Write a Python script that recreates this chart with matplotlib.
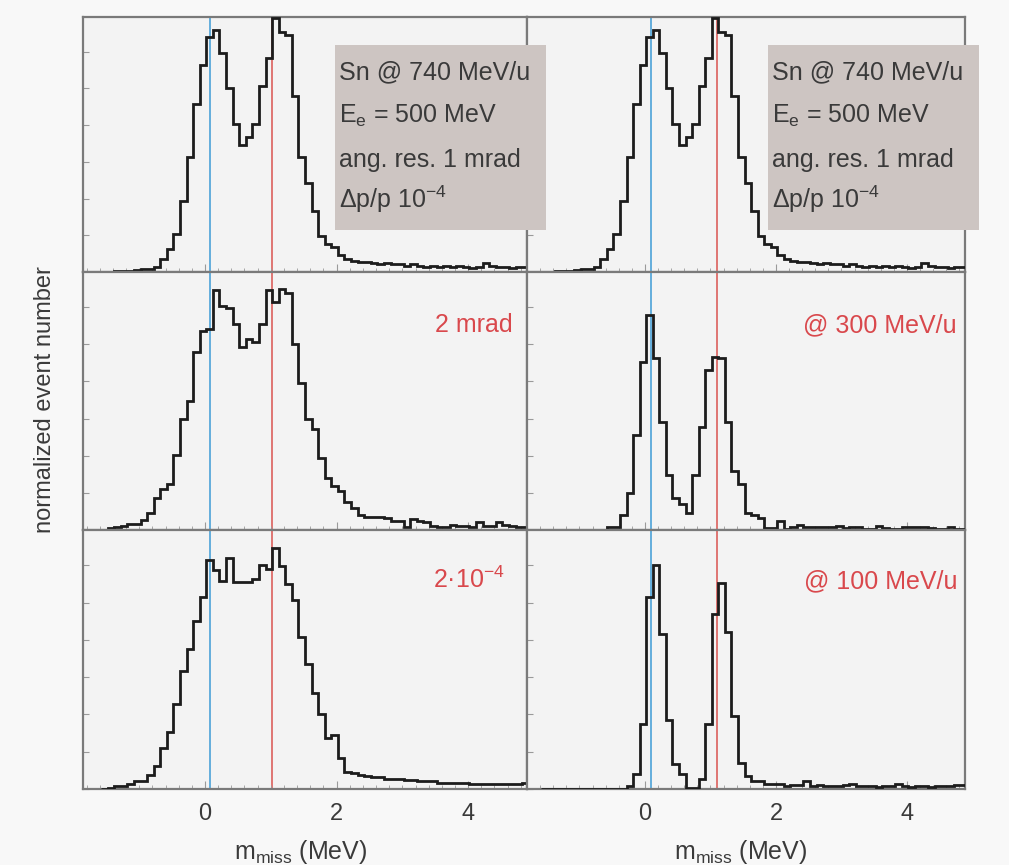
import numpy as np
import matplotlib
matplotlib.use("Agg")
import matplotlib.pyplot as plt
from matplotlib.patches import Rectangle
from matplotlib.ticker import MultipleLocator

# ---------------- data ----------------
bin_start = -1.58
bin_width = 0.1

# Sn @ 740 MeV/u, Ee = 500 MeV, 1 mrad, dp/p 1e-4 (reference, top row)
ref_740 = [0, 0, 0.003, 0.005, 0.005, 0.008, 0.01, 0.012, 0.02, 0.05,
           0.09, 0.15, 0.28, 0.45, 0.66, 0.81, 0.92, 0.95, 0.86, 0.72,
           0.58, 0.50, 0.53, 0.58, 0.73, 0.84, 0.995, 0.94, 0.93, 0.69,
           0.45, 0.35, 0.24, 0.14, 0.11, 0.10, 0.065, 0.05,
           0.045, 0.04, 0.04, 0.035, 0.03, 0.035, 0.03, 0.03, 0.025, 0.03,
           0.025, 0.02, 0.025, 0.02, 0.025, 0.02, 0.025, 0.02, 0.015, 0.02,
           0.035, 0.025, 0.02, 0.02, 0.015, 0.02, 0.02]

# angular resolution 2 mrad
ang_2mrad = [0, 0.008, 0.01, 0.017, 0.025, 0.025, 0.04, 0.065, 0.125, 0.16,
             0.18, 0.29, 0.43, 0.50, 0.69, 0.77, 0.78, 0.93, 0.87, 0.86,
             0.80, 0.71, 0.74, 0.73, 0.80, 0.93, 0.885, 0.935, 0.92, 0.72,
             0.57, 0.43, 0.39, 0.28, 0.20, 0.17, 0.15, 0.11, 0.085, 0.06,
             0.05, 0.05, 0.05, 0.045, 0.035, 0.034, 0.013, 0.043, 0.034, 0.03,
             0.017, 0.01, 0.01, 0.02, 0.015, 0.015, 0.013, 0.03, 0.015, 0.015,
             0.03, 0.02, 0.015, 0.013, 0.01]

# momentum resolution 2e-4
mom_2e4 = [0, 0.005, 0.013, 0.013, 0.02, 0.03, 0.03, 0.055, 0.09, 0.16,
           0.22, 0.33, 0.455, 0.54, 0.65, 0.74, 0.885, 0.845, 0.805, 0.89,
           0.80, 0.80, 0.80, 0.81, 0.865, 0.85, 0.93, 0.86, 0.79, 0.73,
           0.587, 0.483, 0.37, 0.29, 0.197, 0.21, 0.12, 0.065, 0.06, 0.055,
           0.05, 0.045, 0.045, 0.04, 0.04, 0.04, 0.035, 0.035, 0.03, 0.03,
           0.03, 0.025, 0.025, 0.025, 0.022, 0.022, 0.02, 0.02, 0.02, 0.02,
           0.018, 0.02, 0.018, 0.02, 0.025]

# beam 300 MeV/u
beam_300 = [0, 0, 0, 0, 0, 0, 0, 0, 0, 0,
            0.01, 0.01, 0.06, 0.145, 0.37, 0.65, 0.835, 0.665, 0.42, 0.215,
            0.125, 0.10, 0.065, 0.215, 0.40, 0.62, 0.67, 0.665, 0.42, 0.23,
            0.18, 0.065, 0.06, 0.045, 0.008, 0.008, 0.035, 0.005, 0.013, 0.02,
            0.013, 0.012, 0.01, 0.01, 0.012, 0.016, 0.008, 0.012, 0.012, 0.005,
            0.005, 0.016, 0.008, 0.005, 0.004, 0.01, 0.01, 0.013, 0.01, 0.008,
            0.005, 0.005, 0.013, 0.004, 0.004]

# beam 100 MeV/u
beam_100 = [0, 0, 0, 0, 0, 0, 0, 0, 0, 0,
            0, 0, 0, 0.013, 0.056, 0.25, 0.74, 0.865, 0.60, 0.265,
            0.095, 0.056, 0.003, 0.003, 0.04, 0.25, 0.675, 0.795, 0.605, 0.28,
            0.10, 0.05, 0.03, 0.03, 0.02, 0.02, 0.02, 0.01, 0.015, 0.015,
            0.03, 0.01, 0.015, 0.012, 0.01, 0.012, 0.015, 0.02, 0.01, 0.01,
            0.012, 0.008, 0.01, 0.01, 0.02, 0.01, 0.008, 0.01, 0.01, 0.008,
            0.01, 0.01, 0.012, 0.015, 0.015]

# reference lines (left column, right column)
line_blue = [0.076, 0.10]
line_red = [1.025, 1.10]
x_range = [(-1.854, 4.894), (-1.80, 4.885)]
x_ticks = [0, 2, 4]

box_lines = ["Sn @ 740 MeV/u", "E$_\\mathregular{e}$ = 500 MeV",
             "ang. res. 1 mrad", "\u0394p/p 10$^{\\mathregular{-4}}$"]
panel_labels = [[None, None],
                ["2 mrad", "@ 300 MeV/u"],
                ["2\u00b710$^{\\mathregular{-4}}$", "@ 100 MeV/u"]]
panel_data = [[ref_740, ref_740],
              [ang_2mrad, beam_300],
              [mom_2e4, beam_100]]
x_label = "m$_\\mathregular{miss}$ (MeV)"
y_label = "normalized event number"

# ---------------- style ----------------
plt.rcParams['font.family'] = ['Liberation Sans', 'DejaVu Sans']
plt.rcParams['mathtext.fontset'] = 'custom'
plt.rcParams['mathtext.rm'] = 'Liberation Sans'
plt.rcParams['mathtext.it'] = 'Liberation Sans'
plt.rcParams['mathtext.default'] = 'regular'

W, H = 1009, 865
fig = plt.figure(figsize=(W / 100, H / 100), dpi=100, facecolor='#f8f8f8')

col_x = [(83, 527), (527, 965)]
row_y = [(17, 272), (272, 530), (530, 789)]
text_col = '#3a3a3a'
red_col = '#d9484c'

edges = bin_start + bin_width * np.arange(len(ref_740) + 1)

label_pos = [[None, None], [(0.968, 0.767), (0.982, 0.767)],
             [(0.950, 0.776), (0.982, 0.776)]]

for r in range(3):
    for c in range(2):
        x0, x1 = col_x[c]
        y0, y1 = row_y[r]
        ax = fig.add_axes([x0 / W, (H - y1) / H, (x1 - x0) / W, (y1 - y0) / H])
        ax.set_facecolor('#f3f3f3')
        ax.axvline(line_blue[c], color='#3d9bd6', lw=1.1, zorder=1)
        ax.axvline(line_red[c], color='#d9534f', lw=1.1, zorder=1)
        ax.stairs(panel_data[r][c], edges, color='#1c1c1c', lw=2.0, zorder=3)
        ax.set_xlim(*x_range[c])
        ax.set_ylim(0, 1.0)
        ax.set_xticks(x_ticks)
        ax.xaxis.set_minor_locator(MultipleLocator(0.2))
        ax.yaxis.set_major_locator(MultipleLocator(0.144))
        ax.set_yticklabels([])
        ax.tick_params(axis='both', which='both', direction='in',
                       color='#9a9a9a', labelsize=17, labelcolor=text_col)
        ax.tick_params(axis='x', which='major', length=6, pad=10)
        ax.tick_params(axis='x', which='minor', length=3)
        ax.tick_params(axis='y', which='major', length=4)
        if r < 2:
            ax.set_xticklabels([])
        for s in ax.spines.values():
            s.set_color('#7a7a7a')
            s.set_linewidth(1.6)
        lab = panel_labels[r][c]
        if lab:
            lx, ly = label_pos[r][c]
            ax.text(lx, ly, lab, transform=ax.transAxes, ha='right',
                    va='baseline', fontsize=18, color=red_col, zorder=5)

# grey info boxes in the top row
box_x = [(335, 546), (768, 979)]
for bx0, bx1 in box_x:
    fig.add_artist(Rectangle((bx0 / W, (H - 230) / H), (bx1 - bx0) / W,
                             185 / H, transform=fig.transFigure,
                             facecolor='#cdc5c2', edgecolor='none', zorder=5))
    for i, line in enumerate(box_lines):
        base = [79, 123, 167, 208][i]
        fig.text((bx0 + 4) / W, (H - base) / H, line, fontsize=18,
                 color=text_col, va='baseline', ha='left', zorder=6)

fig.text(45 / W, (H - 400) / H, y_label, rotation=90, ha='center',
         va='center', fontsize=17, color=text_col)
for cx in (301, 741):
    fig.text(cx / W, (H - 859) / H, x_label, ha='center', va='baseline',
             fontsize=18, color=text_col)

fig.savefig('out.png', dpi=100, facecolor=fig.get_facecolor())
